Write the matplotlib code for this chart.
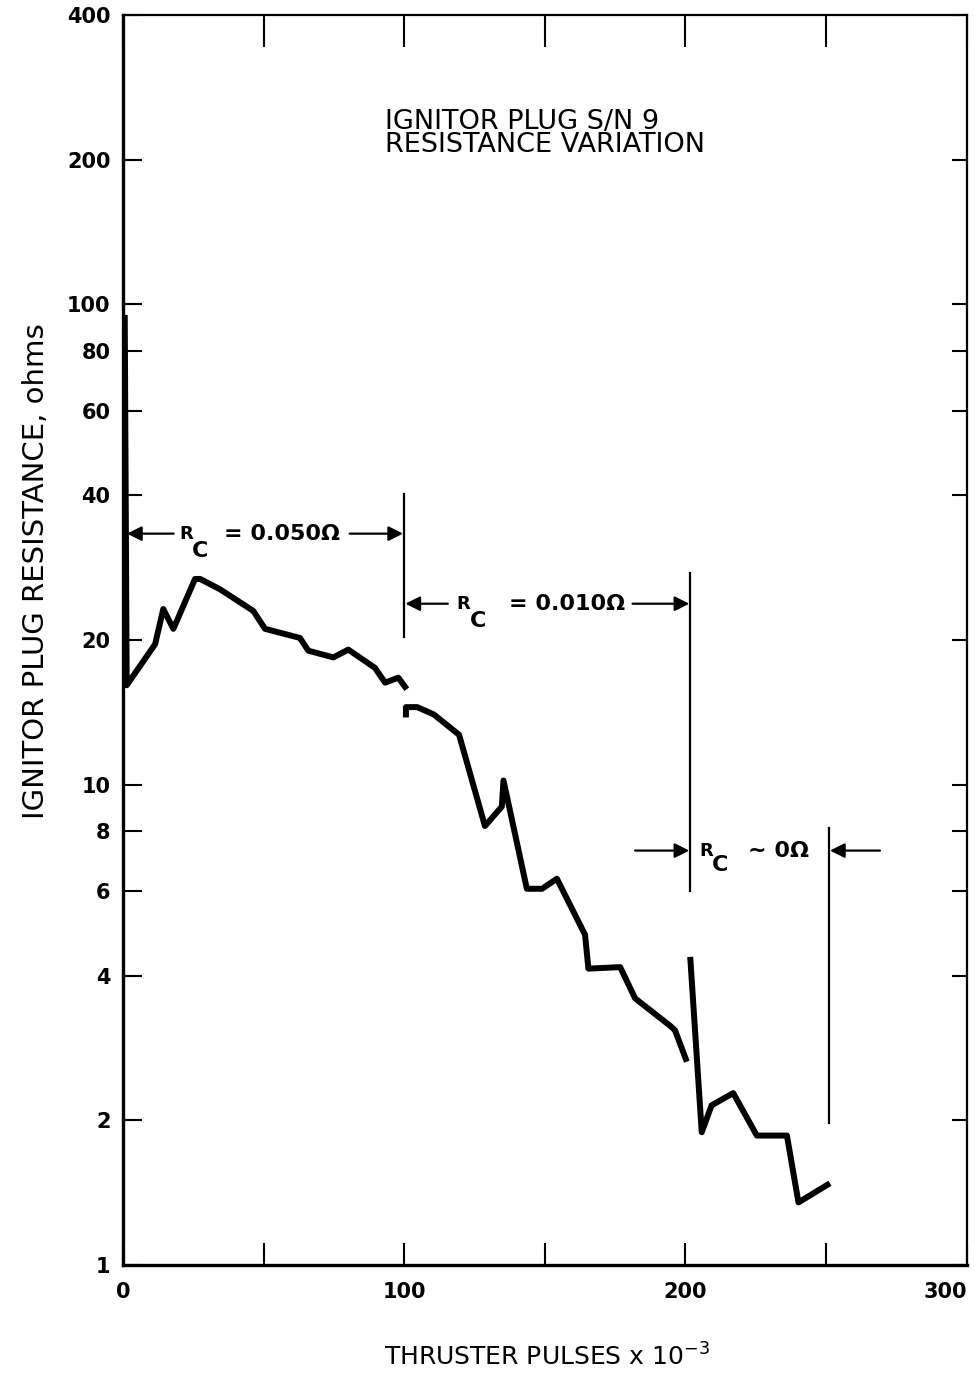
import matplotlib
matplotlib.use("Agg")
import matplotlib.pyplot as plt
import numpy as np

plt.rcParams['font.family'] = ['DejaVu Sans']

# ---- data (thruster pulses x 1e-3, resistance in ohms) ----
seg1_x = [0.6, 1.3, 11.4, 14.3, 17.9, 25.6, 27.4, 34.5, 46.3, 50.5, 62.9, 65.9,
          74.8, 80.1, 89.6, 93.2, 97.9, 100.9]
seg1_y = [95, 16.1, 19.6, 23.2, 21.1, 26.8, 26.8, 25.5, 23.0, 21.1, 20.2, 19.0,
          18.4, 19.1, 17.5, 16.3, 16.7, 15.8]

seg2_x = [100.6, 100.6, 104.6, 110.5, 119.5, 128.7, 134.7, 135.3, 143.6, 149.0,
          154.3, 164.3, 165.5, 176.8, 182.1, 194.5, 196.3, 200.5]
seg2_y = [13.8, 14.5, 14.5, 14.0, 12.7, 8.2, 9.0, 10.2, 6.07, 6.07,
          6.37, 4.87, 4.14, 4.17, 3.59, 3.15, 3.08, 2.65]

seg3_x = [201.7, 205.8, 209.3, 217.0, 225.4, 236.1, 240.2, 251.4]
seg3_y = [4.38, 1.89, 2.15, 2.28, 1.86, 1.86, 1.35, 1.48]

x_ticks = [0, 50, 100, 150, 200, 250, 300]
x_labels = ['0', '', '100', '', '200', '', '300']
y_ticks = [1, 2, 4, 6, 8, 10, 20, 40, 60, 80, 100, 200, 400]
y_labels = ['1', '2', '4', '6', '8', '10', '20', '40', '60', '80', '100', '200', '400']

title_lines = ['IGNITOR PLUG S/N 9', 'RESISTANCE VARIATION']

fig = plt.figure(figsize=(9.75, 13.74), dpi=100)
ax = fig.add_axes([0.1262, 0.0793, 0.8652, 0.9098])
ax.set_yscale('log')
ax.set_xlim(0, 300)
ax.set_ylim(1, 400)

for sx, sy in [(seg1_x, seg1_y), (seg2_x, seg2_y), (seg3_x, seg3_y)]:
    ax.plot(sx, sy, color='black', lw=4.3, solid_joinstyle='round',
            solid_capstyle='butt')

ax.set_xticks(x_ticks)
ax.set_xticklabels(x_labels)
ax.set_yticks(y_ticks)
ax.set_yticklabels(y_labels)
ax.yaxis.set_minor_locator(matplotlib.ticker.NullLocator())
ax.xaxis.set_minor_locator(matplotlib.ticker.NullLocator())

ax.tick_params(axis='x', direction='in', top=True, bottom=True, length=16,
               width=1.5, pad=12, labelsize=15)
ax.tick_params(axis='y', direction='in', left=True, right=True, length=14,
               width=1.5, pad=9, labelsize=15)
for t in ax.xaxis.get_major_ticks():
    t.tick2line.set_markersize(23)
for t in ax.yaxis.get_major_ticks():
    t.tick2line.set_markersize(11)
for lab in ax.get_xticklabels() + ax.get_yticklabels():
    lab.set_fontweight('bold')
ax.get_xticklabels()[-1].set_horizontalalignment('right')

ax.spines['left'].set_linewidth(2.4)
ax.spines['bottom'].set_linewidth(2.4)
ax.spines['top'].set_linewidth(1.6)
ax.spines['right'].set_linewidth(1.6)

# title (two lines, baselines placed separately)
ax.text(93.0, 232.0, title_lines[0], fontsize=19.5, ha='left', va='baseline')
ax.text(93.0, 207.0, title_lines[1], fontsize=19.5, ha='left', va='baseline')

# axis labels
fig.text(0.037, 0.584, 'IGNITOR PLUG RESISTANCE, ohms', rotation=90,
         ha='center', va='center', fontsize=21)
fig.text(0.561, 0.0125, r'THRUSTER PULSES x 10$^{-3}$', ha='center',
         va='center', fontsize=18)

# annotations
arrow = dict(arrowstyle='-|>', color='black', lw=1.6, mutation_scale=22,
             shrinkA=0, shrinkB=0)
lw_v = 1.6

def rc_label(xr, xc, y, yc, rest, xrest):
    ax.text(xr, y, 'R', fontsize=13, ha='center', va='center', fontweight='bold')
    ax.text(xc, yc, 'C', fontsize=16, ha='center', va='center', fontweight='bold')
    ax.text(xrest, y, rest, fontsize=16, ha='center', va='center',
            fontweight='bold')

# R_C = 0.050
ax.annotate('', xy=(1.4, 33.3), xytext=(18.0, 33.3), arrowprops=arrow)
ax.annotate('', xy=(99.6, 33.3), xytext=(80.6, 33.3), arrowprops=arrow)
ax.plot([100.0, 100.0], [20.3, 40.2], color='black', lw=lw_v)
rc_label(22.4, 27.4, 33.3, 30.6, '= 0.050Ω', 56.5)

# R_C = 0.010
ax.annotate('', xy=(100.4, 23.8), xytext=(115.5, 23.8), arrowprops=arrow)
ax.annotate('', xy=(201.4, 23.8), xytext=(181.2, 23.8), arrowprops=arrow)
ax.plot([201.6, 201.6], [6.0, 27.6], color='black', lw=lw_v)
rc_label(121.1, 126.2, 23.8, 21.9, '= 0.010Ω', 158.0)

# R_C ~ 0
ax.annotate('', xy=(201.4, 7.29), xytext=(182.1, 7.29), arrowprops=arrow)
ax.annotate('', xy=(251.4, 7.29), xytext=(269.2, 7.29), arrowprops=arrow)
ax.plot([251.1, 251.1], [1.974, 8.14], color='black', lw=lw_v)
rc_label(207.3, 212.4, 7.29, 6.8, '~ 0Ω', 233.0)

fig.savefig('out.png', dpi=100)
